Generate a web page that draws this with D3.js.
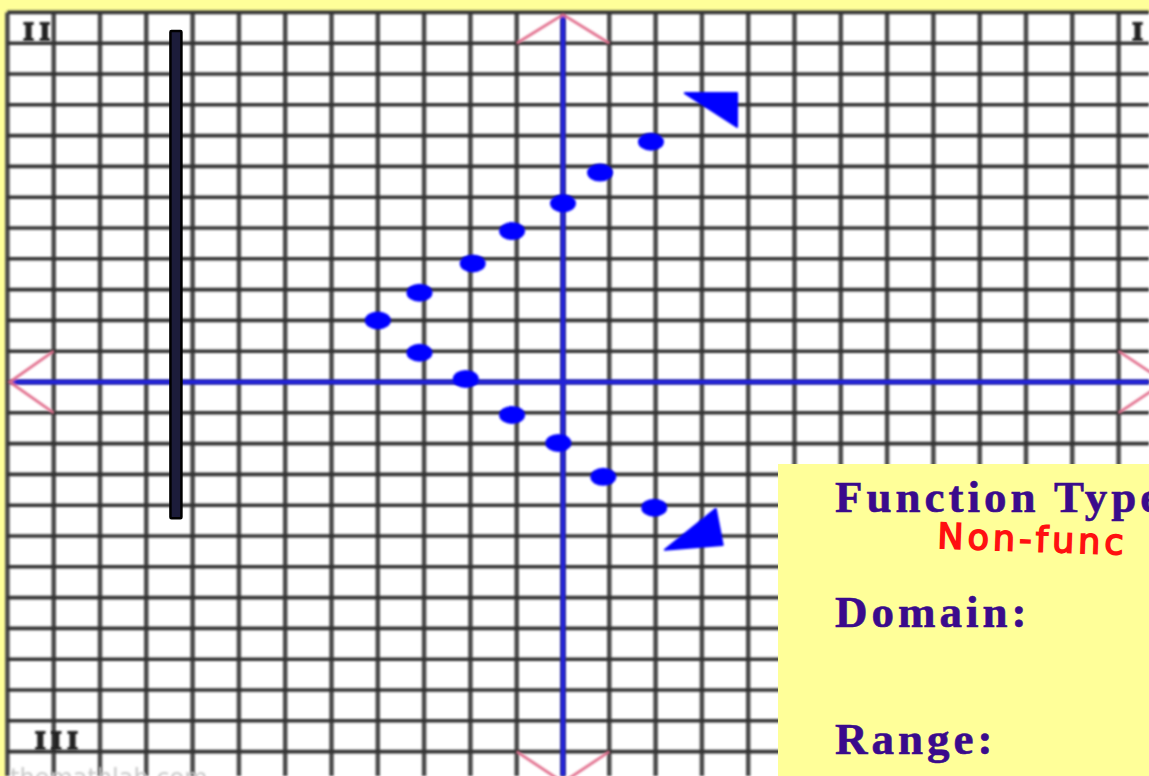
<!DOCTYPE html>
<html>
<head>
<meta charset="utf-8">
<script src="https://cdn.jsdelivr.net/npm/d3@7"></script>
<style>
  html, body { margin: 0; padding: 0; background: #ffff99; }
  svg { display: block; }
</style>
</head>
<body>
<svg id="chart" width="1149" height="776"></svg>
<script>
// ---- data (graph units) ----
const gridX = d3.range(-12, 13);          // vertical grid lines
const gridY = d3.range(-13, 13);          // horizontal grid lines
const upperPoints = [[-3.1, 2.9], [-1.95, 3.85], [-1.1, 4.9], [0, 5.8], [0.8, 6.8], [1.9, 7.8]];
const lowerPoints = [[-4, 2], [-3.1, 0.95], [-2.1, 0.1], [-1.1, -1.07], [-0.1, -1.98], [0.87, -3.08], [1.97, -4.08]];
const upperArrow = [[2.63, 9.38], [3.76, 9.38], [3.76, 8.28]];
const lowerArrow = [[2.2, -5.45], [3.3, -4.12], [3.45, -5.29]];
const vLineTest = { x: -8.36, top: 11.4, bottom: -4.42 };
const axisArrows = [
  [[-1, 11], [0, 11.93], [1, 11]],
  [[-11, 1], [-11.95, 0], [-11, -1]],
  [[12, 1], [13, 0], [12, -1]],
  [[-1, -12], [0, -13], [1, -12]]
];
const quadrantLabels = [
  { text: "II", x: -11.65, y: 11.12 },
  { text: "I", x: 12.3, y: 11.12 },
  { text: "III", x: -11.4, y: -11.92 }
];
const boxLabels = ["Function Type:", "Domain:", "Range:"];
const handNote = "Non-func";

// ---- scales ----
const W = 1149, H = 776;
const x = d3.scaleLinear().domain([-12, 12]).range([7.4, 1118.6]);
const y = d3.scaleLinear().domain([12, -12]).range([12.4, 751.6]);

const svg = d3.select("#chart");
const defs = svg.append("defs");
defs.append("filter").attr("id", "soft")
  .attr("x", "-5%").attr("y", "-5%").attr("width", "110%").attr("height", "110%")
  .append("feGaussianBlur").attr("stdDeviation", 0.9);

// background
svg.append("rect").attr("width", W).attr("height", H).attr("fill", "#ffff99");
svg.append("rect").attr("x", x(-12)).attr("y", y(12))
  .attr("width", W - x(-12)).attr("height", H - y(12)).attr("fill", "#ffffff");

// grid
const grid = svg.append("g").attr("filter", "url(#soft)");
grid.selectAll("line.v").data(gridX).join("line")
  .attr("class", "v")
  .attr("x1", d => x(d)).attr("x2", d => x(d))
  .attr("y1", y(12)).attr("y2", H)
  .attr("stroke", "#4a4a4a").attr("stroke-width", 4.5);
grid.selectAll("line.h").data(gridY).join("line")
  .attr("class", "h")
  .attr("x1", x(-12)).attr("x2", W)
  .attr("y1", d => y(d)).attr("y2", d => y(d))
  .attr("stroke", "#303030").attr("stroke-width", 3.6);

// quadrant labels
svg.selectAll("text.q").data(quadrantLabels).join("text")
  .attr("class", "q")
  .attr("x", d => x(d.x)).attr("y", d => y(d.y))
  .attr("font-family", "Liberation Serif, serif").attr("font-weight", "bold")
  .attr("font-size", 26).attr("letter-spacing", 6).attr("fill", "#222")
  .attr("stroke", "#222").attr("stroke-width", 2)
  .attr("filter", "url(#soft)")
  .text(d => d.text);

// watermark
svg.append("text").attr("x", 10).attr("y", 786)
  .attr("font-family", "DejaVu Sans, sans-serif").attr("font-size", 24)
  .attr("fill", "#c8c8c8").attr("filter", "url(#soft)")
  .text("themathlab.com");

// axes
const axes = svg.append("g").attr("filter", "url(#soft)");
axes.append("line").attr("x1", x(-11.95)).attr("x2", W).attr("y1", y(0)).attr("y2", y(0))
  .attr("stroke", "#2222d8").attr("stroke-width", 5);
axes.append("line").attr("x1", x(0)).attr("x2", x(0)).attr("y1", y(11.93)).attr("y2", H)
  .attr("stroke", "#2222d8").attr("stroke-width", 5);
const line = d3.line().x(d => x(d[0])).y(d => y(d[1]));
axes.selectAll("path.arr").data(axisArrows).join("path")
  .attr("class", "arr").attr("d", line)
  .attr("fill", "none").attr("stroke", "#e2708e").attr("stroke-width", 2.8);

// vertical line test bar
svg.append("rect")
  .attr("x", x(vLineTest.x) - 5.5).attr("y", y(vLineTest.top))
  .attr("width", 11).attr("height", y(vLineTest.bottom) - y(vLineTest.top))
  .attr("fill", "#1c1c3a").attr("stroke", "#000").attr("stroke-width", 2.5)
  .attr("rx", 1);

// points
const pts = svg.append("g").attr("filter", "url(#soft)");
pts.selectAll("ellipse").data(upperPoints.concat(lowerPoints)).join("ellipse")
  .attr("cx", d => x(d[0])).attr("cy", d => y(d[1]))
  .attr("rx", 13).attr("ry", 9).attr("fill", "#0000ff");
pts.selectAll("path.tri").data([upperArrow, lowerArrow]).join("path")
  .attr("class", "tri").attr("d", d => line(d) + "Z")
  .attr("fill", "#0000ff").attr("stroke", "#0000ff").attr("stroke-width", 2)
  .attr("stroke-linejoin", "round");

// info box
const box = svg.append("g");
box.append("rect").attr("x", 778).attr("y", 464).attr("width", W - 778).attr("height", H - 464)
  .attr("fill", "#ffff99");
const baselines = [512, 627, 754];
box.selectAll("text.lbl").data(boxLabels).join("text")
  .attr("class", "lbl")
  .attr("x", 835).attr("y", (d, i) => baselines[i])
  .attr("font-family", "Liberation Serif, 'Times New Roman', serif").attr("font-weight", "bold")
  .attr("font-size", 45).attr("letter-spacing", 4).attr("fill", "#3a0b8c")
  .attr("stroke", "#3a0b8c").attr("stroke-width", 0.6)
  .text(d => d);
box.append("text").attr("x", 937).attr("y", 548)
  .attr("font-family", "DejaVu Sans, sans-serif").attr("font-size", 35)
  .attr("letter-spacing", 4).attr("fill", "#ff1010")
  .attr("stroke", "#ff1010").attr("stroke-width", 1.6)
  .attr("transform", "rotate(2 937 548)")
  .text(handNote);
</script>
</body>
</html>
